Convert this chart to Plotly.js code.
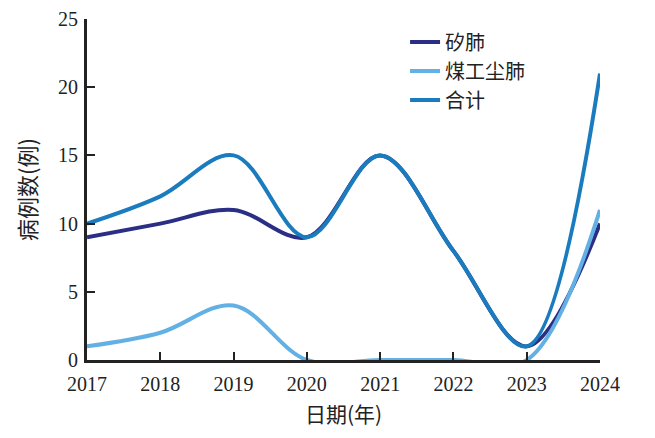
<!DOCTYPE html>
<html>
<head>
<meta charset="utf-8">
<script src="https://cdn.plot.ly/plotly-3.0.1.min.js"></script>
<style>html,body{margin:0;padding:0;background:#fff;}</style>
</head>
<body>
<div id="chart" style="width:655px;height:438px;"></div>
<script>
var years = [2017, 2018, 2019, 2020, 2021, 2022, 2023, 2024];
var silicosis = [9, 10, 11, 9, 15, 8, 1, 10];
var coalPneumo = [1, 2, 4, 0, 0, 0, 0, 11];
var total = [10, 12, 15, 9, 15, 8, 1, 21];

var serif = 'Liberation Serif, "Times New Roman", "Noto Sans CJK SC", serif';
var cjk = '"Noto Sans CJK SC", serif';

function series(name, y, color) {
    return {
        x: years,
        y: y,
        name: name,
        mode: 'lines',
        line: {shape: 'spline', smoothing: 1, color: color, width: 4}
    };
}

var data = [
    series('矽肺', silicosis, '#2b2e85'),
    series('煤工尘肺', coalPneumo, '#62b0e4'),
    series('合计', total, '#1a7cbf')
];

var layout = {
    width: 655,
    height: 438,
    margin: {l: 87, r: 55, t: 19, b: 78},
    paper_bgcolor: '#fff',
    plot_bgcolor: '#fff',
    font: {family: serif, size: 19, color: '#222'},
    showlegend: true,
    legend: {
        x: 0.62, y: 0.99, xanchor: 'left', yanchor: 'top',
        font: {family: cjk, size: 20, color: '#222'},
        bgcolor: 'rgba(0,0,0,0)',
        tracegroupgap: 0
    },
    xaxis: {
        range: [2017, 2024],
        tickvals: years,
        ticktext: years.map(String),
        ticks: 'inside', ticklen: 8, tickwidth: 2, tickcolor: '#222',
        ticklabelstandoff: 4,
        showline: true, linecolor: '#222', linewidth: 3,
        showgrid: false, zeroline: false,
        tickfont: {family: serif, size: 20},
        title: {text: '日期(年)', font: {family: cjk, size: 21}, standoff: 14}
    },
    yaxis: {
        range: [0, 25],
        tickvals: [0, 5, 10, 15, 20, 25],
        ticks: 'inside', ticklen: 8, tickwidth: 2, tickcolor: '#222',
        ticklabelstandoff: 2,
        showline: true, linecolor: '#222', linewidth: 3,
        showgrid: false, zeroline: false,
        tickfont: {family: serif, size: 20},
        title: {text: '病例数(例)', font: {family: cjk, size: 22}, standoff: 16}
    }
};

Plotly.newPlot('chart', data, layout, {displayModeBar: false, staticPlot: true});
</script>
</body>
</html>
